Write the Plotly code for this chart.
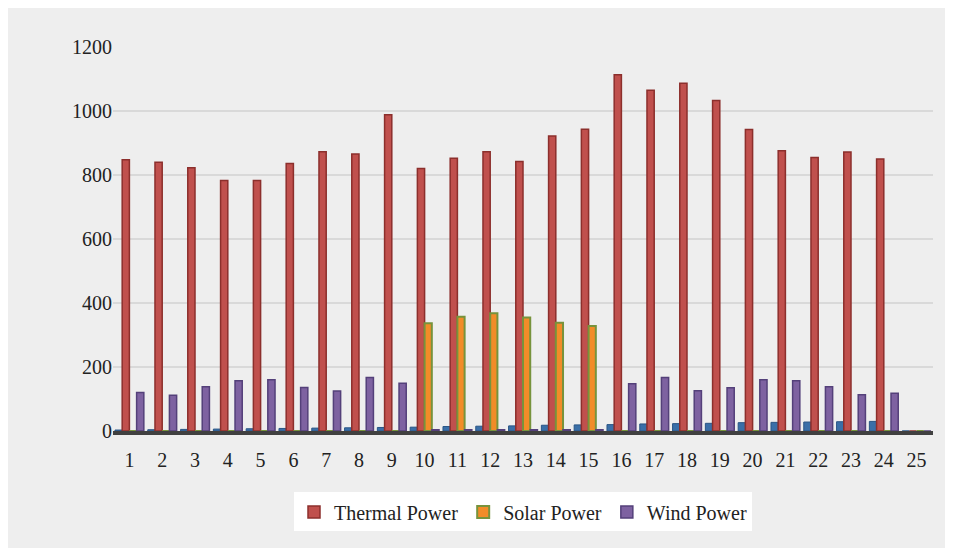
import plotly.graph_objects as go

hours = [str(i) for i in range(1, 26)]
thermal = [848, 840, 823, 783, 783, 836, 873, 866, 988, 820, 852, 873, 842, 922, 943,
           1113, 1065, 1087, 1033, 942, 876, 855, 872, 850, 0]
solar = [0, 0, 0, 0, 0, 0, 0, 0, 0, 337, 357, 368, 355, 338, 328,
         0, 0, 0, 0, 0, 0, 0, 0, 0, 0]
wind = [120, 112, 138, 157, 160, 136, 125, 167, 149, 4, 4, 4, 4, 4, 4,
        148, 167, 126, 135, 160, 157, 138, 113, 118, 0]
other = [3, 4, 5, 6, 7, 8, 9, 10, 11, 12, 14, 15, 16, 18, 19, 20, 22, 23, 24, 26,
         27, 28, 29, 30, 0]

fig = go.Figure()
fig.add_trace(go.Bar(x=hours, y=other, name="Other", showlegend=False,
                     marker=dict(color="#3a6fa8", line=dict(color="#2a5585", width=1))))
fig.add_trace(go.Bar(x=hours, y=thermal, name="Thermal Power",
                     marker=dict(color="#c0504d", line=dict(color="#8c2f2c", width=1.5))))
fig.add_trace(go.Bar(x=hours, y=solar, name="Solar Power",
                     marker=dict(color="#f28c28", line=dict(color="#77933c", width=2))))
fig.add_trace(go.Bar(x=hours, y=wind, name="Wind Power",
                     marker=dict(color="#7e62a1", line=dict(color="#54407a", width=1.5))))

fig.update_layout(
    width=953, height=548,
    barmode="group", bargap=0.12, bargroupgap=0.0,
    paper_bgcolor="#eeeeee", plot_bgcolor="rgba(0,0,0,0)",
    font=dict(family="Liberation Serif", size=20, color="#222"),
    margin=dict(l=105, r=28, t=39, b=125),
    xaxis=dict(showgrid=False, showline=True, linecolor="#404040", linewidth=4,
               ticks="", ticklabelstandoff=8, tickfont=dict(size=20)),
    yaxis=dict(range=[0, 1200], dtick=200, showgrid=True, gridcolor="#d9d9d9",
               gridwidth=2, zeroline=False, ticks="", tickfont=dict(size=20)),
    legend=dict(orientation="h", x=0.5, xanchor="center", y=-0.16, yanchor="top",
                bgcolor="white", font=dict(size=20)),
)
fig.write_html("out.html")
